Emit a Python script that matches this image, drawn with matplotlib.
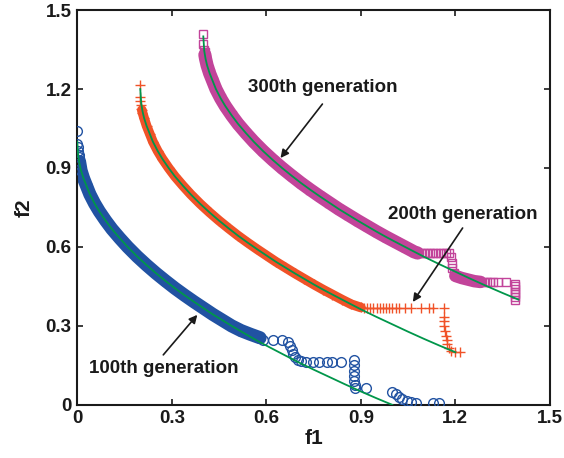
import matplotlib
matplotlib.use("Agg")
import matplotlib.pyplot as plt

plt.rcParams['font.family'] = ['Liberation Sans', 'DejaVu Sans']
plt.rcParams['font.weight'] = 'bold'

# true Pareto fronts (green lines)
front1_x = [0.0, 0.003, 0.007, 0.012, 0.02, 0.03, 0.04, 0.055, 0.07, 0.09, 0.11, 0.135, 0.16, 0.19,
            0.22, 0.25, 0.28, 0.31, 0.34, 0.37, 0.40, 0.43, 0.46, 0.49, 0.52, 0.55, 0.58, 0.61,
            0.65, 0.70, 0.75, 0.80, 0.85, 0.90, 0.95, 1.00]
front1_y = [1.00, 0.945, 0.916, 0.89, 0.86, 0.83, 0.80, 0.765, 0.735, 0.70, 0.668, 0.633, 0.60, 0.564,
            0.531, 0.50, 0.471, 0.443, 0.417, 0.392, 0.368, 0.344, 0.322, 0.30, 0.279, 0.258, 0.238, 0.219,
            0.194, 0.163, 0.134, 0.106, 0.078, 0.051, 0.025, 0.0]
front2_x = [0.20, 0.203, 0.207, 0.212, 0.22, 0.23, 0.24, 0.255, 0.27, 0.29, 0.31, 0.335, 0.36, 0.39,
            0.42, 0.45, 0.48, 0.51, 0.54, 0.57, 0.60, 0.63, 0.66, 0.69, 0.72, 0.75, 0.78, 0.81,
            0.85, 0.90, 0.95, 1.00, 1.05, 1.10, 1.15, 1.20]
front2_y = [1.20, 1.145, 1.116, 1.09, 1.06, 1.03, 1.00, 0.965, 0.935, 0.90, 0.868, 0.833, 0.80, 0.764,
            0.731, 0.70, 0.671, 0.643, 0.617, 0.592, 0.568, 0.544, 0.522, 0.50, 0.479, 0.458, 0.438, 0.419,
            0.394, 0.363, 0.334, 0.306, 0.278, 0.251, 0.225, 0.20]
front3_x = [0.40, 0.403, 0.407, 0.412, 0.42, 0.43, 0.44, 0.455, 0.47, 0.49, 0.51, 0.535, 0.56, 0.59,
            0.62, 0.65, 0.68, 0.71, 0.74, 0.77, 0.80, 0.83, 0.86, 0.89, 0.92, 0.95, 0.98, 1.01,
            1.05, 1.10, 1.15, 1.20, 1.25, 1.30, 1.35, 1.40]
front3_y = [1.40, 1.345, 1.316, 1.29, 1.26, 1.23, 1.20, 1.165, 1.135, 1.10, 1.068, 1.033, 1.00, 0.964,
            0.931, 0.90, 0.871, 0.843, 0.817, 0.792, 0.768, 0.744, 0.722, 0.70, 0.679, 0.658, 0.638, 0.619,
            0.594, 0.563, 0.534, 0.506, 0.478, 0.451, 0.425, 0.40]

# 100th generation (circles): dense band + scattered points
gen100_band_x = [0.007, 0.012, 0.02, 0.03, 0.04, 0.055, 0.07, 0.09, 0.11, 0.135, 0.16, 0.19, 0.22,
                 0.25, 0.28, 0.31, 0.34, 0.37, 0.40, 0.43, 0.46, 0.49, 0.52, 0.55, 0.58]
gen100_band_y = [0.925, 0.89, 0.86, 0.83, 0.80, 0.765, 0.735, 0.70, 0.668, 0.633, 0.60, 0.564, 0.531,
                 0.50, 0.471, 0.443, 0.417, 0.392, 0.368, 0.344, 0.322, 0.30, 0.282, 0.268, 0.255]
gen100_x = [0.0, 0.0, 0.002, 0.003, 0.005, 0.007,
            0.59, 0.62, 0.65,
            0.67, 0.675, 0.68, 0.685, 0.69, 0.70, 0.71,
            0.725, 0.747, 0.766, 0.794, 0.81, 0.836,
            0.877, 0.877, 0.878, 0.878, 0.879, 0.88, 0.88, 0.915,
            1.0, 1.01, 1.02, 1.03, 1.045, 1.06, 1.075, 1.128, 1.147]
gen100_y = [1.04, 0.99, 0.98, 0.965, 0.95, 0.94,
            0.247, 0.247, 0.245,
            0.24, 0.225, 0.21, 0.195, 0.18, 0.17, 0.165,
            0.163, 0.163, 0.163, 0.163, 0.163, 0.163,
            0.17, 0.15, 0.13, 0.11, 0.09, 0.075, 0.065, 0.065,
            0.05, 0.04, 0.03, 0.022, 0.015, 0.01, 0.008, 0.008, 0.008]

# 200th generation (plus)
gen200_band_x = [0.205, 0.207, 0.212, 0.22, 0.23, 0.24, 0.255, 0.27, 0.29, 0.31, 0.335, 0.36, 0.39,
                 0.42, 0.45, 0.48, 0.51, 0.54, 0.57, 0.60, 0.63, 0.66, 0.69, 0.72, 0.75, 0.78, 0.81,
                 0.84, 0.87, 0.90]
gen200_band_y = [1.12, 1.11, 1.09, 1.06, 1.03, 1.00, 0.965, 0.935, 0.90, 0.868, 0.833, 0.80, 0.764,
                 0.731, 0.70, 0.671, 0.643, 0.617, 0.592, 0.568, 0.544, 0.522, 0.50, 0.479, 0.458, 0.438, 0.419,
                 0.40, 0.382, 0.37]
gen200_x = [0.20, 0.20, 0.20, 0.202, 0.203,
            0.91, 0.92, 0.93, 0.94, 0.95, 0.96, 0.97, 0.98, 0.99, 1.0, 1.01, 1.02,
            1.04, 1.06, 1.09, 1.115, 1.13, 1.165,
            1.165, 1.165, 1.165, 1.168, 1.17, 1.172, 1.175, 1.18, 1.185, 1.20, 1.215]
gen200_y = [1.215, 1.17, 1.155, 1.14, 1.125,
            0.367, 0.367, 0.367, 0.367, 0.367, 0.367, 0.367, 0.367, 0.367, 0.367, 0.367, 0.367,
            0.367, 0.367, 0.367, 0.367, 0.367, 0.367,
            0.335, 0.32, 0.30, 0.28, 0.26, 0.245, 0.23, 0.215, 0.205, 0.20, 0.20]

# 300th generation (squares)
gen300_band_x = [0.405, 0.407, 0.412, 0.42, 0.43, 0.44, 0.455, 0.47, 0.49, 0.51, 0.535, 0.56, 0.59,
                 0.62, 0.65, 0.68, 0.71, 0.74, 0.77, 0.80, 0.83, 0.86, 0.89, 0.92, 0.95, 0.98, 1.01,
                 1.04, 1.07, 1.08]
gen300_band_y = [1.33, 1.316, 1.29, 1.26, 1.23, 1.20, 1.165, 1.135, 1.10, 1.068, 1.033, 1.00, 0.964,
                 0.931, 0.90, 0.871, 0.843, 0.817, 0.792, 0.768, 0.744, 0.722, 0.70, 0.679, 0.658, 0.638, 0.619,
                 0.60, 0.581, 0.577]
gen300_band2_x = [1.20, 1.22, 1.24, 1.26, 1.28]
gen300_band2_y = [0.49, 0.482, 0.476, 0.47, 0.467]
gen300_x = [0.40, 0.40, 0.402, 0.404,
            1.09, 1.10, 1.11, 1.12, 1.13, 1.14, 1.15, 1.16, 1.17, 1.18,
            1.185, 1.188, 1.19, 1.195,
            1.29, 1.30, 1.31, 1.32, 1.335, 1.36,
            1.39, 1.39, 1.39, 1.39, 1.39, 1.39, 1.39]
gen300_y = [1.41, 1.37, 1.35, 1.34,
            0.577, 0.577, 0.577, 0.577, 0.577, 0.577, 0.577, 0.577, 0.577, 0.577,
            0.56, 0.54, 0.52, 0.50,
            0.467, 0.467, 0.467, 0.467, 0.467, 0.465,
            0.46, 0.45, 0.44, 0.43, 0.42, 0.41, 0.40]

ticks = [0, 0.3, 0.6, 0.9, 1.2, 1.5]
tick_labels = ['0', '0.3', '0.6', '0.9', '1.2', '1.5']

blue = '#2152a2'
orange = '#f05228'
magenta = '#c2449a'
green = '#00964a'
ink = '#1a1a1a'

fig = plt.figure(figsize=(5.64, 4.58), dpi=100)
ax = fig.add_axes([0.137, 0.116, 0.838, 0.862])

# dense bands
ax.plot(gen100_band_x, gen100_band_y, color=blue, linewidth=9.5, solid_capstyle='round',
        solid_joinstyle='round', zorder=2)
ax.plot(gen200_band_x, gen200_band_y, color=orange, linewidth=7, solid_capstyle='round',
        solid_joinstyle='round', zorder=2)
ax.plot(gen300_band_x, gen300_band_y, color=magenta, linewidth=9.5, solid_capstyle='round',
        solid_joinstyle='round', zorder=2)
ax.plot(gen300_band2_x, gen300_band2_y, color=magenta, linewidth=9, solid_capstyle='round', zorder=2)

# markers
ax.plot(gen100_band_x + gen100_x, gen100_band_y + gen100_y, 'o', color=blue,
        markerfacecolor='none', markersize=7, markeredgewidth=1.0, zorder=3)
ax.plot(gen200_band_x + gen200_x, gen200_band_y + gen200_y, '+', color=orange,
        markersize=7, markeredgewidth=1.0, zorder=3)
ax.plot(gen300_band_x + gen300_x, gen300_band_y + gen300_y, 's', color=magenta,
        markerfacecolor='none', markersize=6, markeredgewidth=1.0, zorder=3)

# true fronts
for fx, fy in [(front1_x, front1_y), (front2_x, front2_y), (front3_x, front3_y)]:
    ax.plot(fx, fy, color=green, linewidth=1.3, zorder=4)

# annotations
arrow = dict(arrowstyle='-|>', color=ink, lw=1.2, mutation_scale=12, shrinkA=0, shrinkB=0)
ax.annotate('', xy=(0.645, 0.938), xytext=(0.778, 1.143), arrowprops=arrow, zorder=5)
ax.text(0.778, 1.204, '300th generation', ha='center', va='center', fontsize=13.5,
        fontweight='bold', color=ink)
ax.annotate('', xy=(1.065, 0.391), xytext=(1.223, 0.672), arrowprops=arrow, zorder=5)
ax.text(1.223, 0.722, '200th generation', ha='center', va='center', fontsize=13.5,
        fontweight='bold', color=ink)
ax.annotate('', xy=(0.381, 0.342), xytext=(0.273, 0.19), arrowprops=arrow, zorder=5)
ax.text(0.273, 0.137, '100th generation', ha='center', va='center', fontsize=13.5,
        fontweight='bold', color=ink)

ax.set_xlim(0, 1.5)
ax.set_ylim(0, 1.5)
ax.set_xticks(ticks)
ax.set_xticklabels(tick_labels)
ax.set_yticks(ticks)
ax.set_yticklabels(tick_labels)
ax.tick_params(direction='in', top=True, right=True, length=4, width=1.2,
               labelsize=13.5, pad=4, colors=ink)
for lab in ax.get_xticklabels() + ax.get_yticklabels():
    lab.set_fontweight('bold')
for s in ax.spines.values():
    s.set_linewidth(1.5)
    s.set_color(ink)

ax.set_xlabel('f1', fontsize=15, fontweight='bold', color=ink, labelpad=1)
ax.set_ylabel('f2', fontsize=15, fontweight='bold', color=ink, labelpad=9)

fig.savefig('out.png', dpi=100)
